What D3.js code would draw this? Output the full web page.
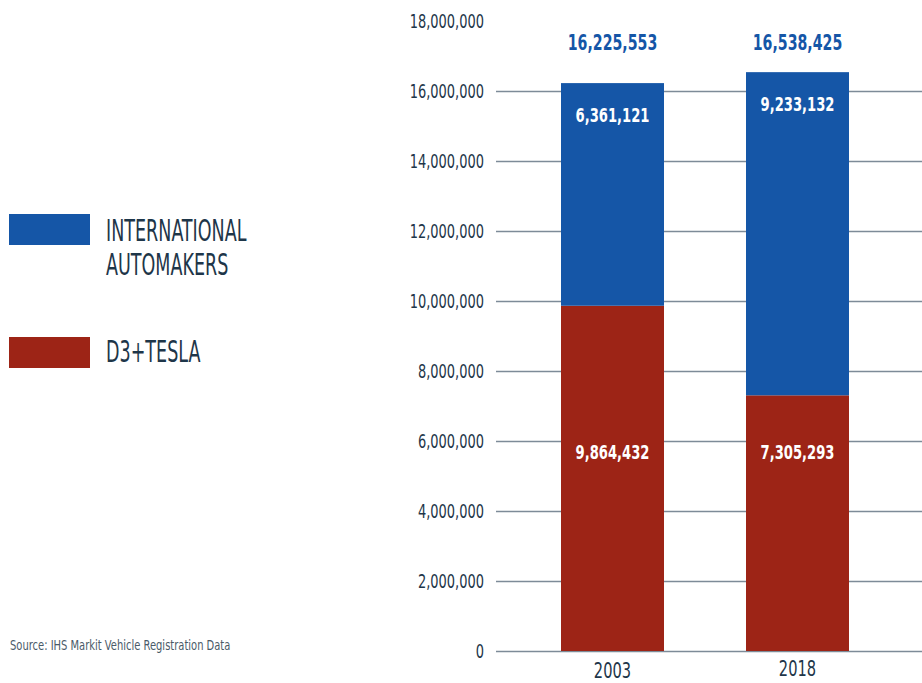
<!DOCTYPE html>
<html><head><meta charset="utf-8">
<script src="https://cdn.jsdelivr.net/npm/d3@7"></script>
<style>
body{margin:0;background:#fff;}
svg text{font-family:"DejaVu Sans Condensed","DejaVu Sans",sans-serif;}
</style></head>
<body><svg id="c" width="922" height="683"></svg>
<script>
const years = ["2003","2018"];
const d3tesla = [9864432, 7305293];
const international = [6361121, 9233132];
const totals = [16225553, 16538425];
const yTicks = [0,2000000,4000000,6000000,8000000,10000000,12000000,14000000,16000000,18000000];
const seriesNames = ["INTERNATIONAL AUTOMAKERS","D3+TESLA"];
const colors = {blue:"#1556a7", red:"#9d2416", text:"#1e3649", grid:"#7d8b98"};

const svg = d3.select("#c");
const fmt = d3.format(",");
const y = d3.scaleLinear().domain([0,16000000]).range([651,91]);
const x = d3.scaleBand().domain(years).range([520,890]).paddingInner(0.8).paddingOuter(0.4);
const bw = 103;
const xc = d => x(d) + x.bandwidth()/2;

function condense(sel, sx){
  sel.attr("transform", function(){
    const px = +this.getAttribute("x") || 0;
    return `translate(${px},0) scale(${sx},1) translate(${-px},0)`;
  });
}

// axis + gridlines
const yAxis = d3.axisLeft(y).tickValues(yTicks).tickFormat(d=>fmt(d)).tickSize(0).tickPadding(12);
const g = svg.append("g").attr("transform","translate(496,0)").call(yAxis);
g.select(".domain").remove();
g.selectAll(".tick text").attr("fill",colors.text).attr("font-size",19)
  .style("font-family",'"DejaVu Sans Condensed","DejaVu Sans",sans-serif').call(condense,0.76);
g.selectAll(".tick").filter(d=>d<=16000000).append("line").attr("x1",0).attr("x2",426).attr("stroke",colors.grid).attr("stroke-width",1.5);

const rows = years.map((yr,i)=>({yr, red:d3tesla[i], blue:international[i], total:totals[i]}));

// bars
const bars = svg.append("g");
bars.selectAll("rect.red").data(rows).join("rect").attr("class","red")
  .attr("x",d=>xc(d.yr)-bw/2).attr("width",bw)
  .attr("y",d=>y(d.red)).attr("height",d=>y(0)-y(d.red)).attr("fill",colors.red);
bars.selectAll("rect.blue").data(rows).join("rect").attr("class","blue")
  .attr("x",d=>xc(d.yr)-bw/2).attr("width",bw)
  .attr("y",d=>y(d.red+d.blue)).attr("height",d=>y(d.red)-y(d.red+d.blue)).attr("fill",colors.blue);

// totals
svg.selectAll("text.tot").data(rows).join("text").attr("class","tot")
  .attr("x",d=>xc(d.yr)).attr("y",50).attr("text-anchor","middle")
  .attr("fill",colors.blue).attr("font-weight","bold").attr("font-size",21)
  .text(d=>fmt(d.total)).call(condense,0.75);
// blue segment labels
svg.selectAll("text.bl").data(rows).join("text").attr("class","bl")
  .attr("x",d=>xc(d.yr)).attr("y",d=>y(d.red+d.blue)+39).attr("text-anchor","middle")
  .attr("fill","#fff").attr("font-weight","bold").attr("font-size",20)
  .text(d=>fmt(d.blue)).call(condense,0.73);
// red segment labels
svg.selectAll("text.rl").data(rows).join("text").attr("class","rl")
  .attr("x",d=>xc(d.yr)).attr("y",459).attr("text-anchor","middle")
  .attr("fill","#fff").attr("font-weight","bold").attr("font-size",20)
  .text(d=>fmt(d.red)).call(condense,0.73);
// x labels
svg.selectAll("text.xl").data(rows).join("text").attr("class","xl")
  .attr("x",d=>xc(d.yr)).attr("y",(d,i)=>i===0?678:676).attr("text-anchor","middle")
  .attr("fill",colors.text).attr("font-size",22)
  .text(d=>d.yr).call(condense,0.74);

// legend
const leg = svg.append("g");
leg.append("rect").attr("x",9).attr("y",214).attr("width",81).attr("height",31).attr("fill",colors.blue);
leg.append("rect").attr("x",9).attr("y",337).attr("width",81).attr("height",31).attr("fill",colors.red);
const lt = [["INTERNATIONAL",241],["AUTOMAKERS",275],[seriesNames[1],362]];
leg.selectAll("text").data(lt).join("text")
  .attr("x",106).attr("y",d=>d[1]).attr("fill",colors.text).attr("font-size",30)
  .text(d=>d[0]).call(condense,0.65);

svg.append("text").attr("x",10).attr("y",650).attr("fill","#4a5a68").attr("font-size",13.5)
  .text("Source: IHS Markit Vehicle Registration Data").call(condense,0.82);
</script></body></html>
